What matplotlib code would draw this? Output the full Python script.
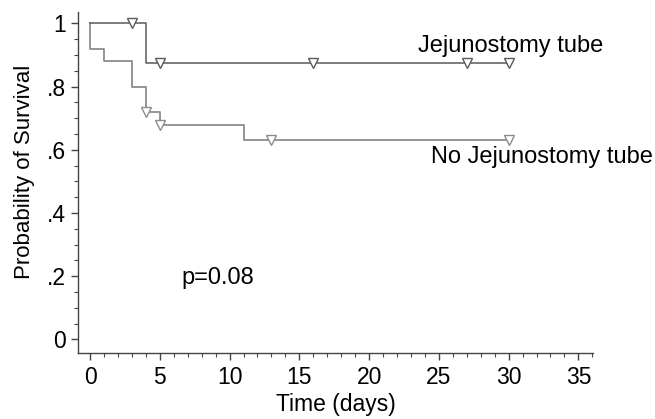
import numpy as np
import matplotlib.pyplot as plt
from matplotlib.ticker import MultipleLocator

plt.rcParams['font.family'] = ['Liberation Sans', 'DejaVu Sans']

# Kaplan-Meier steps (time, survival)
jej_t = [0, 4, 30]
jej_s = [1.0, 0.875, 0.875]
jej_cens_t = [3, 5, 16, 27, 30]
jej_cens_s = [1.0, 0.875, 0.875, 0.875, 0.875]

nojej_t = [0, 0, 1, 3, 4, 5, 11, 30]
nojej_s = [1.0, 0.92, 0.88, 0.80, 0.72, 0.68, 0.63, 0.63]
nojej_cens_t = [4, 5, 13, 30]
nojej_cens_s = [0.72, 0.68, 0.63, 0.63]

yticks = [0, 0.2, 0.4, 0.6, 0.8, 1.0]
ylabels = ['0', '.2', '.4', '.6', '.8', '1']
xticks = [0, 5, 10, 15, 20, 25, 30, 35]

fig = plt.figure(figsize=(6.55, 4.19), dpi=100)
ax = fig.add_axes([0.1196, 0.1568, 0.7854, 0.8152])

dark = '#5a5a5a'
light = '#8c8c8c'
fs = 16.5

ax.step(nojej_t, nojej_s, where='post', color=light, lw=1.3)
ax.step(jej_t, jej_s, where='post', color=dark, lw=1.1)
ax.plot(nojej_cens_t, nojej_cens_s, 'v', ms=7, mfc='white', mec=light, mew=1.0)
ax.plot(jej_cens_t, jej_cens_s, 'v', ms=7, mfc='white', mec=dark, mew=1.0)

fig.text(603 / 655, 1 - 46 / 419, 'Jejunostomy tube', fontsize=17, ha='right', va='center')
fig.text(653 / 655, 1 - 157 / 419, 'No Jejunostomy tube', fontsize=17, ha='right', va='center')
fig.text(181 / 655, 1 - 278 / 419, 'p=0.08', fontsize=17, ha='left', va='center')

ax.set_xlim(-0.84, 36.03)
ax.set_ylim(-0.044, 1.037)
ax.set_xticks(xticks)
ax.xaxis.set_minor_locator(MultipleLocator(1))
ax.set_yticks(yticks)
ax.set_yticklabels(ylabels)
ax.yaxis.set_minor_locator(MultipleLocator(0.05))

for s in ['top', 'right']:
    ax.spines[s].set_visible(False)
for s in ['left', 'bottom']:
    ax.spines[s].set_color('#444444')
    ax.spines[s].set_linewidth(1.0)

ax.tick_params(which='major', length=5, width=1.0, color='#444444', labelsize=fs, pad=4)
ax.tick_params(which='minor', length=3, width=0.8, color='#444444')

ax.set_xlabel('Time (days)', fontsize=fs, labelpad=3)
ax.set_ylabel('Probability of Survival', fontsize=16)
ax.yaxis.set_label_coords(-0.085, 0.532)

fig.savefig('out.png', dpi=100)
